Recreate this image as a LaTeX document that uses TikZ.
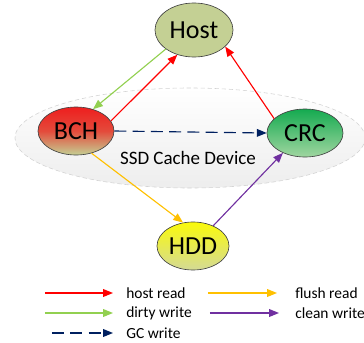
\documentclass[tikz,border=0pt]{standalone}
\usepackage{fontspec}
\setmainfont{Carlito}
\usetikzlibrary{shapes.geometric,arrows.meta}

\definecolor{hostgreen}{RGB}{196,208,148}
\definecolor{bchred}{RGB}{238,30,30}
\definecolor{crcgreen}{RGB}{20,170,80}
\definecolor{crclight}{RGB}{160,214,160}
\definecolor{hddyellow}{RGB}{250,250,10}
\definecolor{hddlight}{RGB}{212,218,150}
\definecolor{dirtygreen}{RGB}{146,208,80}
\definecolor{gcnavy}{RGB}{0,32,96}
\definecolor{flushorange}{RGB}{255,192,0}
\definecolor{cleanpurple}{RGB}{112,48,160}

\begin{document}
\begin{tikzpicture}[
        x=0.025cm,
        y=-0.025cm,
        every node/.style={font=\fontsize{18.5}{20}\selectfont},
        dev node/.style={ellipse,draw=black!75,line width=0.45pt,inner sep=0pt,
            minimum width=1.9cm,minimum height=1.2cm},
        cache area/.style={ellipse,draw=gray!35,densely dashed,line width=0.4pt,
            top color=white,bottom color=gray!14,minimum width=8.75cm,minimum height=2.5cm},
        flow/.style={line width=0.8pt,-{Triangle[length=7pt,width=5.5pt]}},
        red line/.style={flow,red},
        green line/.style={flow,dirtygreen},
        navy line/.style={flow,gcnavy,dash pattern=on 8.5pt off 4.5pt},
        yellow line/.style={flow,flushorange},
        purple line/.style={flow,cleanpurple},
        legend text/.style={font=\fontsize{11}{13}\selectfont,anchor=west,inner sep=0pt}
    ]
        \useasboundingbox (0,0) rectangle (364,343);

        % cache device and the four parts
        \node[cache area] (ssd) at (190,138) {};
        \node[font=\fontsize{13.5}{15}\selectfont] (ssdlabel) at (188,158) {SSD Cache Device};

        \node[dev node,fill=hostgreen,minimum width=1.95cm,minimum height=1.35cm] (host) at (194,30) {Host};
        \node[dev node,top color=bchred,bottom color=hostgreen,middle color=bchred!75!hostgreen] (bch) at (76,131) {BCH};
        \node[dev node,top color=crcgreen,bottom color=crclight] (crc) at (305,133) {CRC};
        \node[dev node,top color=hddyellow,middle color=hddyellow,bottom color=hddlight,minimum width=1.8cm] (hdd) at (193,246) {HDD};

        % data paths
        \draw[green line] (host.214) -- (bch.52);
        \draw[red line] (bch.16) -- (host.236);
        \draw[red line] (crc.155) -- (host.332);
        \draw[navy line] (bch.east) -- (crc.west);
        \draw[yellow line] (bch.305) -- (hdd.113);
        \draw[purple line] (hdd.45) -- (crc.222);

        % legend
        \coordinate (hr) at (45,293);
        \coordinate (dw) at (45,313);
        \coordinate (gc) at (52,333);
        \coordinate (fr) at (208,293);
        \coordinate (cw) at (210,313);
        \node[legend text] (hrlabel) at (126,293) {host read};
        \node[legend text] (dwlabel) at (126,313) {dirty write};
        \node[legend text] (gclabel) at (126,333) {GC write};
        \node[legend text] (frlabel) at (295,293) {flush read};
        \node[legend text] (cwlabel) at (295,313) {clean write};
        \draw[red line] (hr) -- ([xshift=-13*0.025cm]hrlabel.west);
        \draw[green line] (dw) -- ([xshift=-13*0.025cm]dwlabel.west);
        \draw[navy line] (gc) -- ([xshift=-13*0.025cm]gclabel.west);
        \draw[yellow line] (fr) -- ([xshift=-18*0.025cm]frlabel.west);
        \draw[purple line] (cw) -- ([xshift=-16*0.025cm]cwlabel.west);
    \end{tikzpicture}
\end{document}
